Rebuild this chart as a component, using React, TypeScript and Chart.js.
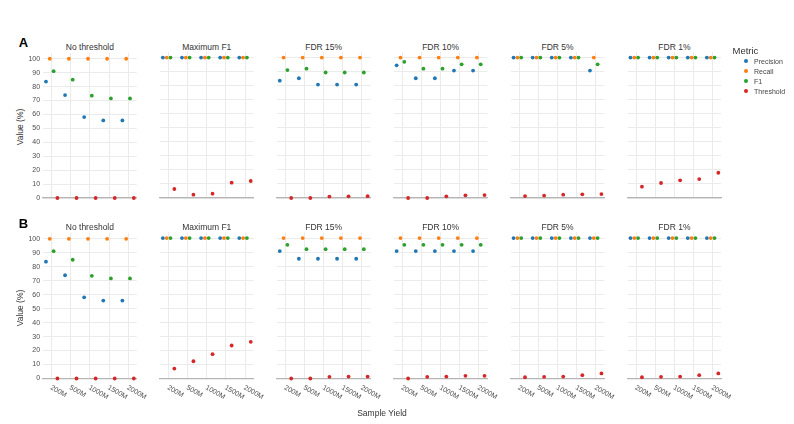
import React, { useEffect, useRef } from "react";
import { Chart, registerables } from "chart.js";

Chart.register(...registerables);

const FONT = "'Liberation Sans', Arial, Helvetica, sans-serif";

const categories = ["200M", "500M", "1000M", "1500M", "2000M"];
const panelTitles = ["No threshold", "Maximum F1", "FDR 15%", "FDR 10%", "FDR 5%", "FDR 1%"];
const rowLabels = ["A", "B"];
const metrics = ["Precision", "Recall", "F1", "Threshold"];
const metricColors = ["#1F77B4", "#FF7F0E", "#2CA02C", "#D62728"];
const yTicks = [0, 10, 20, 30, 40, 50, 60, 70, 80, 90, 100];

// Row A — one list per panel (No threshold, Maximum F1, FDR 15%, FDR 10%, FDR 5%, FDR 1%)
const precisionA = [
  [83.6, 73.9, 58.1, 55.7, 55.7],
  [100, 100, 100, 100, 100],
  [83.6, 85.3, 80.8, 80.8, 80.8],
  [94.5, 85.3, 85.3, 90.8, 90.8],
  [100, 100, 100, 100, 90.8],
  [100, 100, 100, 100, 100],
];
const recallA = [
  [100, 100, 100, 100, 100],
  [100, 100, 100, 100, 100],
  [100, 100, 100, 100, 100],
  [100, 100, 100, 100, 100],
  [100, 100, 100, 100, 100],
  [100, 100, 100, 100, 100],
];
const f1A = [
  [91.1, 85.0, 73.5, 71.5, 71.5],
  [100, 100, 100, 100, 100],
  [91.1, 92.1, 89.4, 89.4, 89.4],
  [97.0, 92.1, 92.1, 95.2, 95.2],
  [100, 100, 100, 100, 95.2],
  [100, 100, 100, 100, 100],
];
const thresholdA = [
  [0, 0, 0, 0, 0],
  [6.4, 2.4, 3.1, 10.9, 12.1],
  [0, 0, 1.0, 1.2, 1.3],
  [0, 0, 1.2, 1.9, 2.1],
  [1.4, 1.7, 2.4, 2.6, 2.8],
  [8.1, 10.7, 12.6, 13.5, 18.0],
];

// Row B
const precisionB = [
  [83.6, 73.9, 58.1, 55.8, 55.8],
  [100, 100, 100, 100, 100],
  [90.8, 85.3, 85.3, 85.3, 85.3],
  [90.8, 90.8, 90.8, 90.8, 90.8],
  [100, 100, 100, 100, 100],
  [100, 100, 100, 100, 100],
];
const recallB = [
  [100, 100, 100, 100, 100],
  [100, 100, 100, 100, 100],
  [100, 100, 100, 100, 100],
  [100, 100, 100, 100, 100],
  [100, 100, 100, 100, 100],
  [100, 100, 100, 100, 100],
];
const f1B = [
  [91.1, 85.0, 73.5, 71.6, 71.6],
  [100, 100, 100, 100, 100],
  [95.2, 92.1, 92.1, 92.1, 92.1],
  [95.2, 95.2, 95.2, 95.2, 95.2],
  [100, 100, 100, 100, 100],
  [100, 100, 100, 100, 100],
];
const thresholdB = [
  [0, 0, 0, 0, 0],
  [7.1, 12.3, 17.3, 23.5, 26.1],
  [0, 0, 1.2, 1.4, 1.4],
  [0, 1.2, 1.4, 1.9, 1.9],
  [0.9, 1.2, 1.4, 2.4, 3.6],
  [0.9, 1.2, 1.4, 2.4, 3.6],
];

const rowData = [
  [precisionA, recallA, f1A, thresholdA],
  [precisionB, recallB, f1B, thresholdB],
];

// layout
const DODGE = [-0.3, -0.1, 0.1, 0.3];
const X_MIN = -0.45;
const X_MAX = 4.45;
const Y_MAX = 104;
const PANEL_W = 93.6;
const PANEL_H = 146;
const PANEL_X0 = 43.1;
const PANEL_STEP = 116.9;
const ROW_TOPS = [52, 232.5];
const PAD_L = 32;
const PAD_T = 6;
const PAD_R = 30;
const PAD_B = 36;

const rotatedTickLabels = {
  id: "rotatedTickLabels",
  afterDraw(chart: any, _args: any, opts: any) {
    if (!opts || !opts.show) return;
    const { ctx, chartArea, scales } = chart;
    ctx.save();
    ctx.font = `7px ${FONT}`;
    ctx.fillStyle = "#4D4D4D";
    ctx.textAlign = "left";
    ctx.textBaseline = "top";
    categories.forEach((c, i) => {
      const x = scales.x.getPixelForValue(i);
      ctx.save();
      ctx.translate(x + 1, chartArea.bottom + 5.5);
      ctx.rotate(Math.PI / 6);
      ctx.fillText(c, 0, 0);
      ctx.restore();
    });
    ctx.restore();
  },
};

function Panel({ row, col }: { row: number; col: number }) {
  const ref = useRef<HTMLCanvasElement | null>(null);
  const panelLeft = PANEL_X0 + col * PANEL_STEP;
  const panelTop = ROW_TOPS[row];
  const canvasLeft = Math.floor(panelLeft - PAD_L);
  const canvasTop = Math.floor(panelTop - PAD_T);
  const padL = panelLeft - canvasLeft;
  const padT = panelTop - canvasTop;
  const width = Math.ceil(padL + PANEL_W + PAD_R);
  const height = Math.ceil(padT + PANEL_H + PAD_B);
  const padR = width - padL - PANEL_W;
  const padB = height - padT - PANEL_H;

  useEffect(() => {
    if (!ref.current) return;
    const series = rowData[row];
    const chart = new Chart(ref.current, {
      type: "scatter",
      data: {
        datasets: metrics.map((m, k) => ({
          label: m,
          data: series[k][col].map((v: number, i: number) => ({ x: i + DODGE[k], y: v })),
          backgroundColor: metricColors[k],
          borderColor: metricColors[k],
          borderWidth: 0,
          pointRadius: 1.9,
          pointHoverRadius: 1.9,
          clip: false as any,
        })),
      },
      options: {
        responsive: false,
        animation: false,
        events: [],
        layout: { padding: { top: padT, right: padR, left: 0, bottom: 0 } },
        plugins: {
          legend: { display: false },
          tooltip: { enabled: false },
          title: { display: false },
          rotatedTickLabels: { show: row === 1 },
        } as any,
        scales: {
          x: {
            type: "linear",
            min: X_MIN,
            max: X_MAX,
            afterBuildTicks: (s: any) => {
              s.ticks = categories.map((_, i) => ({ value: i }));
            },
            afterFit: (s: any) => {
              s.height = padB;
            },
            ticks: { display: false },
            grid: { color: "#EBEBEB", lineWidth: 1, drawTicks: false },
            border: { display: true, color: "#B5B5B5", width: 1.3 },
          },
          y: {
            type: "linear",
            min: 0,
            max: Y_MAX,
            afterBuildTicks: (s: any) => {
              s.ticks = yTicks.map((v) => ({ value: v }));
            },
            afterFit: (s: any) => {
              s.width = padL;
            },
            ticks: {
              display: col === 0,
              font: { size: 7, family: FONT },
              color: "#4D4D4D",
              padding: 3,
            },
            grid: { color: "#EBEBEB", lineWidth: 1, drawTicks: false },
            border: { display: false },
          },
        },
      } as any,
      plugins: [rotatedTickLabels],
    });
    return () => chart.destroy();
  }, [row, col]);

  return (
    <canvas
      ref={ref}
      width={width}
      height={height}
      style={{ position: "absolute", left: canvasLeft, top: canvasTop, width, height }}
    />
  );
}

export default function App() {
  const textBase: React.CSSProperties = {
    position: "absolute",
    fontFamily: FONT,
    whiteSpace: "nowrap",
    lineHeight: 1,
  };
  return (
    <div
      style={{
        position: "fixed",
        left: 0,
        top: 0,
        width: 794,
        height: 424,
        background: "#ffffff",
        overflow: "hidden",
        fontFamily: FONT,
      }}
    >
      {rowLabels.map((lab, r) => (
        <React.Fragment key={lab}>
          <div
            style={{
              ...textBase,
              left: 23.5,
              top: ROW_TOPS[r] - 10,
              transform: "translate(-50%, -50%)",
              fontSize: 13,
              fontWeight: "bold",
              color: "#000",
            }}
          >
            {lab}
          </div>
          <div
            style={{
              ...textBase,
              left: 20,
              top: ROW_TOPS[r] + 75,
              transform: "translate(-50%, -50%) rotate(-90deg)",
              fontSize: 8.5,
              color: "#333",
            }}
          >
            Value (%)
          </div>
          {panelTitles.map((t, c) => (
            <div
              key={t}
              style={{
                ...textBase,
                left: PANEL_X0 + c * PANEL_STEP + PANEL_W / 2,
                top: ROW_TOPS[r] - 5.5,
                transform: "translate(-50%, -50%)",
                fontSize: 8.5,
                color: "#333",
              }}
            >
              {t}
            </div>
          ))}
          {panelTitles.map((t, c) => (
            <Panel key={"p" + t} row={r} col={c} />
          ))}
        </React.Fragment>
      ))}
      <div
        style={{
          ...textBase,
          left: 382,
          top: 413,
          transform: "translate(-50%, -50%)",
          fontSize: 8.5,
          color: "#333",
        }}
      >
        Sample Yield
      </div>
      <div
        style={{
          ...textBase,
          left: 732.5,
          top: 50.5,
          transform: "translate(0, -50%)",
          fontSize: 9.5,
          color: "#333",
        }}
      >
        Metric
      </div>
      {metrics.map((m, k) => (
        <React.Fragment key={m}>
          <div
            style={{
              position: "absolute",
              left: 746 - 1.9,
              top: 61 + k * 10 - 1.9,
              width: 3.8,
              height: 3.8,
              borderRadius: "50%",
              background: metricColors[k],
            }}
          />
          <div
            style={{
              ...textBase,
              left: 754,
              top: 61 + k * 10,
              transform: "translate(0, -50%)",
              fontSize: 7,
              color: "#444",
            }}
          >
            {m}
          </div>
        </React.Fragment>
      ))}
    </div>
  );
}
